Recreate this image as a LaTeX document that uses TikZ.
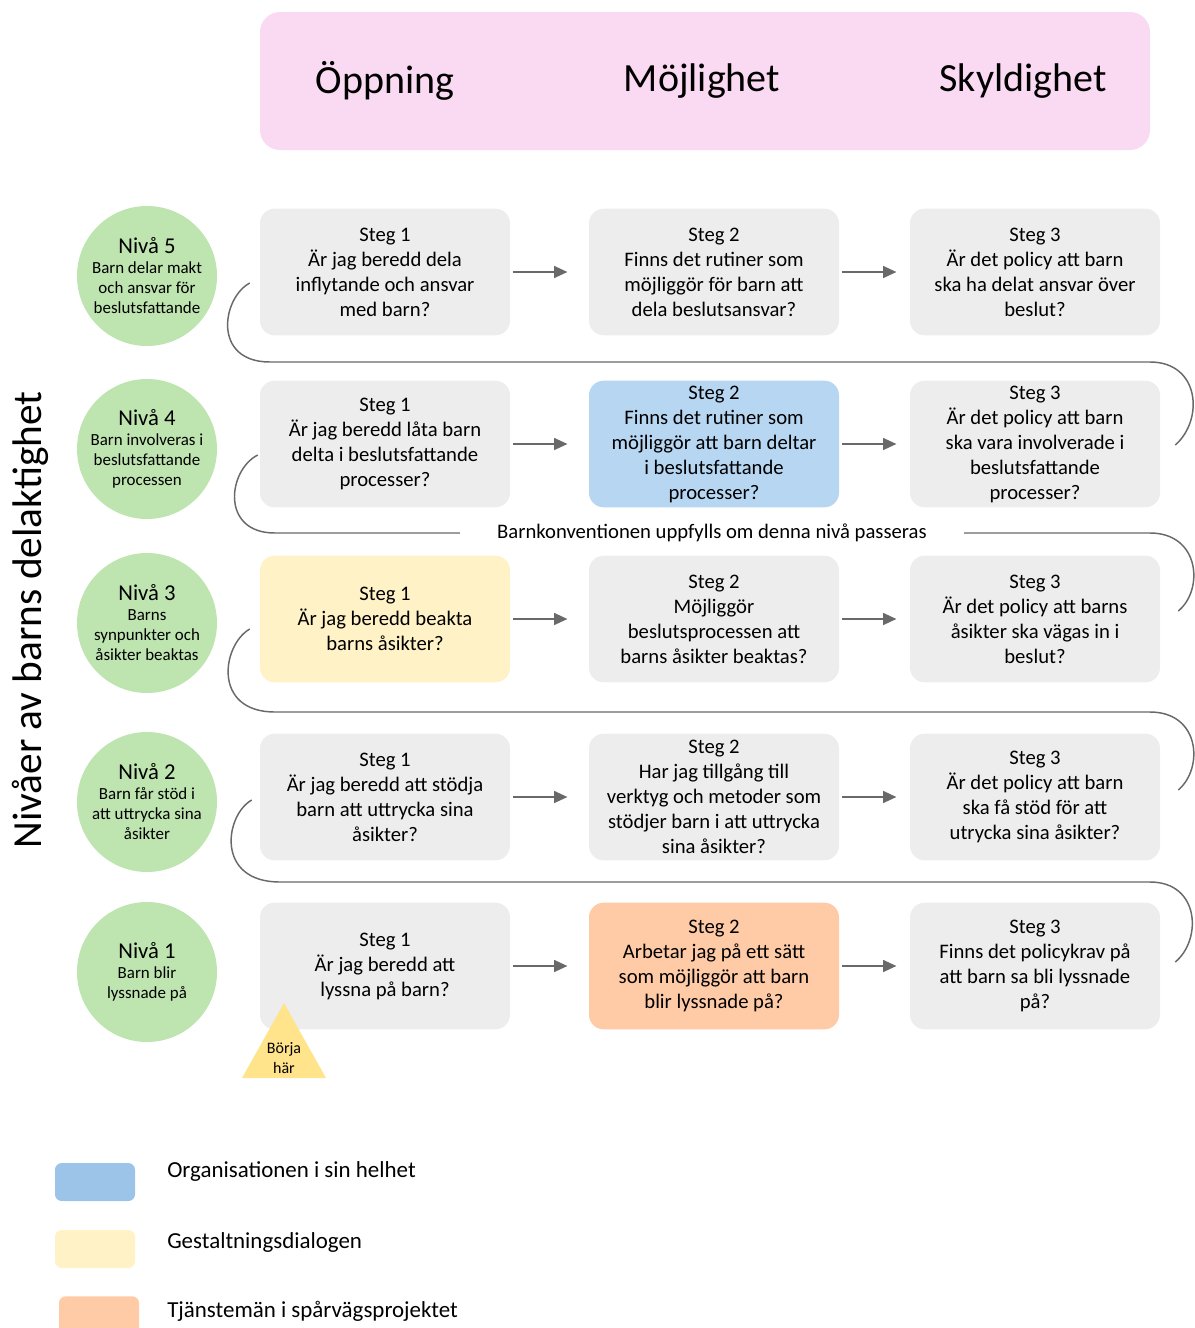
\documentclass[tikz,border=0pt]{standalone}
\usepackage{fontspec}
\setmainfont{Carlito}
\usetikzlibrary{arrows.meta,positioning,calc}

\definecolor{headpink}{RGB}{250,218,242}
\definecolor{nivagreen}{RGB}{190,228,176}
\definecolor{stepgray}{RGB}{237,237,237}
\definecolor{orgblue}{RGB}{182,214,242}
\definecolor{legblue}{RGB}{155,196,232}
\definecolor{dialogyellow}{RGB}{255,242,198}
\definecolor{tjanstorange}{RGB}{255,202,166}
\definecolor{startyellow}{RGB}{255,228,140}
\definecolor{linegray}{RGB}{105,105,105}

\begin{document}
\begin{tikzpicture}[x=0.75pt,y=0.75pt,yscale=-1,xscale=1,
  stepbox/.style={fill=stepgray, rounded corners=11pt, minimum width=187.5pt, minimum height=95pt, align=center, inner sep=0pt, font=\fontsize{15.5}{18.75}\selectfont},
  nivacirc/.style={circle, fill=nivagreen, minimum size=105pt, align=center, inner sep=0pt, font=\fontsize{12.7}{15}\selectfont},
  flowarrow/.style={draw=linegray, line width=1.1pt, -{Triangle[length=10pt,width=9pt]}, shorten <=2pt, shorten >=16pt},
  snakeline/.style={draw=linegray, line width=1.1pt},
  legendbox/.style={rounded corners=5pt, minimum width=60pt, minimum height=28.5pt, inner sep=0pt},
  legendtext/.style={anchor=west, inner sep=0pt, font=\fontsize{17.2}{20}\selectfont},
  headtext/.style={font=\fontsize{30}{36}\selectfont}]

\useasboundingbox (0,0) rectangle (1195,1328);

%Header
\draw [fill=headpink, draw=none, rounded corners=15pt] (260,12) rectangle (1150,150);
\node [headtext] (oppning) at (385,81) {Öppning};
\node [headtext] (mojlighet) at (702,81) {Möjlighet};
\node [headtext] (skyldighet) at (1023,81) {Skyldighet};

%Vertical title
\node [rotate=90, font=\fontsize{31}{36}\selectfont] (title) at (30,620) {Nivåer av barns delaktighet};

%Niva 5
\node [nivacirc] (niva5) at (147,276) {{\fontsize{17}{20}\selectfont Nivå 5}\\Barn delar makt\\och ansvar för\\beslutsfattande};
\node [stepbox] (r5s1) at (385,272) {Steg 1\\Är jag beredd dela\\inflytande och ansvar\\med barn?};
\node [stepbox] (r5s2) at (714,272) {Steg 2\\Finns det rutiner som\\möjliggör för barn att\\dela beslutsansvar?};
\node [stepbox] (r5s3) at (1035,272) {Steg 3\\Är det policy att barn\\ska ha delat ansvar över\\beslut?};
\draw [flowarrow] (r5s1) -- (r5s2);
\draw [flowarrow, shorten >=10pt] (r5s2) -- (r5s3);

%Niva 4
\node [nivacirc] (niva4) at (147,449) {{\fontsize{17}{20}\selectfont Nivå 4}\\Barn involveras i\\beslutsfattande\\processen};
\node [stepbox] (r4s1) at (385,444) {Steg 1\\Är jag beredd låta barn\\delta i beslutsfattande\\processer?};
\node [stepbox, fill=orgblue] (r4s2) at (714,444) {Steg 2\\Finns det rutiner som\\möjliggör att barn deltar\\i beslutsfattande\\processer?};
\node [stepbox] (r4s3) at (1035,444) {Steg 3\\Är det policy att barn\\ska vara involverade i\\beslutsfattande\\processer?};
\draw [flowarrow] (r4s1) -- (r4s2);
\draw [flowarrow, shorten >=10pt] (r4s2) -- (r4s3);

%Niva 3
\node [nivacirc] (niva3) at (147,623) {{\fontsize{17}{20}\selectfont Nivå 3}\\Barns\\synpunkter och\\åsikter beaktas};
\node [stepbox, fill=dialogyellow] (r3s1) at (385,619) {Steg 1\\Är jag beredd beakta\\barns åsikter?};
\node [stepbox] (r3s2) at (714,619) {Steg 2\\Möjliggör\\beslutsprocessen att\\barns åsikter beaktas?};
\node [stepbox] (r3s3) at (1035,619) {Steg 3\\Är det policy att barns\\åsikter ska vägas in i\\beslut?};
\draw [flowarrow] (r3s1) -- (r3s2);
\draw [flowarrow, shorten >=10pt] (r3s2) -- (r3s3);

%Niva 2
\node [nivacirc] (niva2) at (147,802) {{\fontsize{17}{20}\selectfont Nivå 2}\\Barn får stöd i\\att uttrycka sina\\åsikter};
\node [stepbox] (r2s1) at (385,797) {Steg 1\\Är jag beredd att stödja\\barn att uttrycka sina\\åsikter?};
\node [stepbox] (r2s2) at (714,797) {Steg 2\\Har jag tillgång till\\verktyg och metoder som\\stödjer barn i att uttrycka\\sina åsikter?};
\node [stepbox] (r2s3) at (1035,797) {Steg 3\\Är det policy att barn\\ska få stöd för att\\utrycka sina åsikter?};
\draw [flowarrow] (r2s1) -- (r2s2);
\draw [flowarrow, shorten >=10pt] (r2s2) -- (r2s3);

%Niva 1
\node [nivacirc] (niva1) at (147,972) {{\fontsize{17}{20}\selectfont Nivå 1}\\Barn blir\\lyssnade på};
\node [stepbox] (r1s1) at (385,966) {Steg 1\\Är jag beredd att\\lyssna på barn?};
\node [stepbox, fill=tjanstorange] (r1s2) at (714,966) {Steg 2\\Arbetar jag på ett sätt\\som möjliggör att barn\\blir lyssnade på?};
\node [stepbox] (r1s3) at (1035,966) {Steg 3\\Finns det policykrav på\\att barn sa bli lyssnade\\på?};
\draw [flowarrow] (r1s1) -- (r1s2);
\draw [flowarrow, shorten >=10pt] (r1s2) -- (r1s3);

%Snake lines between the levels
\draw [snakeline] ([shift={(15,-4)}]r1s3.east) .. controls (1202,940) and (1200,882) .. (1150,882) -- (280,882) .. controls (215,882) and (225,815) .. ([shift={(-8,3)}]r2s1.west);
\draw [snakeline] ([shift={(18,-7)}]r2s3.east) .. controls (1204,768) and (1200,712) .. (1150,712) -- (275,712) .. controls (212,712) and (222,645) .. ([shift={(-10,10)}]r3s1.west);
\draw [snakeline] ([shift={(18,-8)}]r3s3.east) .. controls (1204,590) and (1200,533) .. (1150,533) -- (275,533) .. controls (220,533) and (228,470) .. ([shift={(-2,11)}]r4s1.west);
\draw [snakeline] ([shift={(15,1)}]r4s3.east) .. controls (1204,420) and (1200,362) .. (1150,362) -- (270,362) .. controls (212,362) and (222,298) .. ([shift={(-10,11)}]r5s1.west);

\node [fill=white, inner xsep=28pt, inner ysep=2pt, font=\fontsize{15.5}{18}\selectfont] (konvention) at (712,533) {Barnkonventionen uppfylls om denna nivå passeras};

%Start triangle
\draw [fill=startyellow, draw=none] (242,1078) -- (326,1078) -- (284,1003) -- cycle;
\node [align=center, font=\fontsize{12}{15}\selectfont] (borja) at (284,1058) {Börja\\här};

%Legend
\node [legendbox, fill=legblue] (legorg) at (95,1182) {};
\node [legendbox, fill=dialogyellow] (legdialog) at (95,1249) {};
\node [legendbox, fill=tjanstorange, minimum height=34pt] (legtjanst) at (99,1319) {};
\node [legendtext] (txtorg) at (167,1171) {Organisationen i sin helhet};
\node [legendtext] (txtdialog) at (167,1242) {Gestaltningsdialogen};
\node [legendtext] (txttjanst) at (167,1311) {Tjänstemän i spårvägsprojektet};

\end{tikzpicture}
\end{document}
